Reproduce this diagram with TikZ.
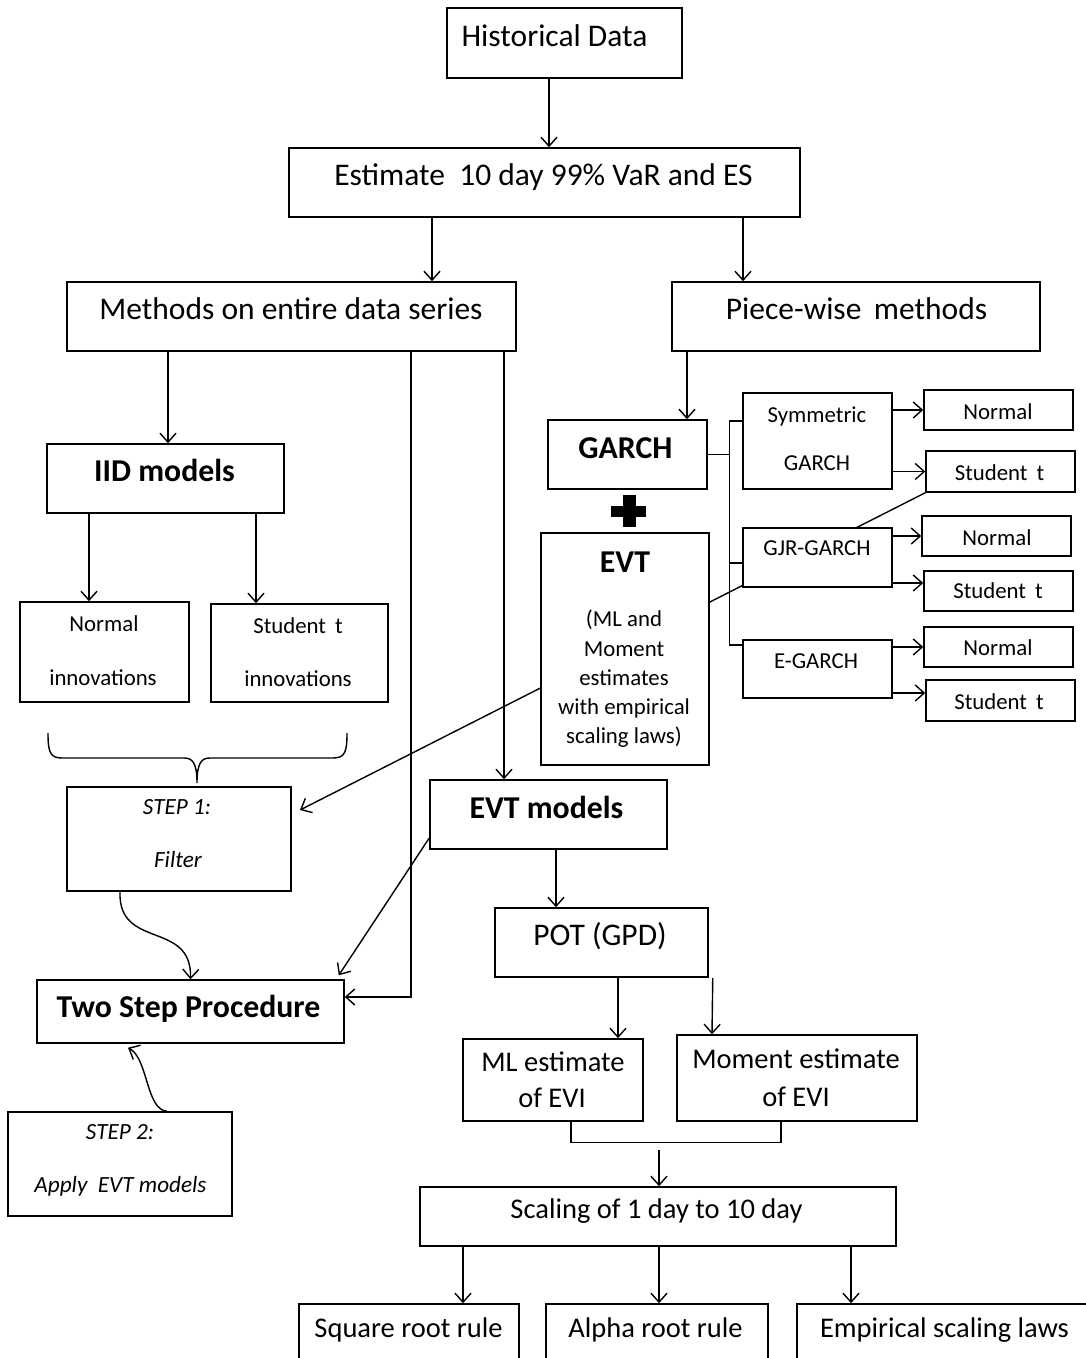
\documentclass[tikz,border=0pt]{standalone}
\usepackage{fontspec}
\setmainfont{Carlito}
\usetikzlibrary{arrows.meta,backgrounds}
\begin{document}
\begin{tikzpicture}[x=1pt,y=-1pt,
  box/.style={draw, line width=1.5pt, fill=white, inner sep=0pt},
  lbl/.style={anchor=base, inner sep=0pt},
  big/.style={font=\fontsize{31.5}{36}\selectfont},
  bigl/.style={font=\fontsize{28.5}{34}\selectfont},
  bigb/.style={font=\fontsize{31.8}{36}\selectfont\bfseries},
  sm/.style={font=\fontsize{22.8}{27}\selectfont},
  smi/.style={font=\fontsize{23.2}{27}\selectfont\itshape},
  ln/.style={line width=1.4pt},
  arr/.style={ln, -{Straight Barb[length=9pt,width=16pt]}},
]
\useasboundingbox (0,0) rectangle (1086,1358);
\clip (0,0) rectangle (1086,1358);

% ---------- boxes ----------
\node[box, minimum width=235pt, minimum height=70pt] (hist) at (564.5,43) {};
\node[box, minimum width=511pt, minimum height=69pt] (est) at (544.5,182.5) {};
\node[box, minimum width=449pt, minimum height=69pt] (meth) at (291.5,316.5) {};
\node[box, minimum width=368pt, minimum height=69pt] (piece) at (856,316.5) {};
\node[box, minimum width=159pt, minimum height=69pt] (garch) at (627.5,454.5) {};
\node[box, minimum width=168pt, minimum height=232pt] (evt) at (625,649) {};
\node[box, minimum width=149pt, minimum height=96pt] (sym) at (817.5,441) {};
\node[box, minimum width=149pt, minimum height=59pt] (gjr) at (817.5,557.5) {};
\node[box, minimum width=149pt, minimum height=58pt] (eg) at (817.5,669) {};
\node[box, minimum width=149pt, minimum height=40pt] (n1) at (998.5,410) {};
\node[box, minimum width=149pt, minimum height=41pt] (s1) at (1000.5,471.5) {};
\node[box, minimum width=149pt, minimum height=40pt] (n2) at (996.5,536) {};
\node[box, minimum width=149pt, minimum height=40pt] (s2) at (998.5,591) {};
\node[box, minimum width=149pt, minimum height=40pt] (n3) at (998.5,647) {};
\node[box, minimum width=149pt, minimum height=41pt] (s3) at (1000.5,700.5) {};
\node[box, minimum width=237pt, minimum height=69pt] (iid) at (165.5,478.5) {};
\node[box, minimum width=169pt, minimum height=100pt] (ninn) at (104.5,652) {};
\node[box, minimum width=177pt, minimum height=98pt] (sinn) at (299.5,653) {};
\node[box, minimum width=224pt, minimum height=104pt] (step1) at (179,839) {};
\node[box, minimum width=237pt, minimum height=69pt] (evtm) at (548.5,814.5) {};
\node[box, minimum width=213pt, minimum height=69pt] (pot) at (601.5,942.5) {};
\node[box, minimum width=307pt, minimum height=63pt] (two) at (190.5,1011.5) {};
\node[box, minimum width=224pt, minimum height=104pt] (step2) at (120,1164) {};
\node[box, minimum width=180pt, minimum height=82pt] (ml) at (553,1080) {};
\node[box, minimum width=240pt, minimum height=86pt] (mom) at (797,1078) {};
\node[box, minimum width=476pt, minimum height=59pt] (scal) at (658,1216.5) {};
\node[box, minimum width=220pt, minimum height=76pt] (sq) at (409,1342) {};
\node[box, minimum width=222pt, minimum height=76pt] (alpha) at (657,1342) {};
\node[box, minimum width=293pt, minimum height=76pt] (emp) at (943.5,1342) {};

% ---------- texts ----------
\node[lbl,big] (hist-t) at (554.5,46) {Historical Data};
\node[lbl,big] (est-t) at (543.5,185) {Estimate\ \ 10 day 99\% VaR and ES};
\node[lbl,big] (meth-t) at (291,319) {Methods on entire data series};
\node[lbl,big] (piece-t) at (856.5,319) {Piece-wise\ \,methods};
\node[lbl,bigb] (garch-t) at (625.5,458) {GARCH};
\node[lbl,bigb] (evt-t) at (625,572) {EVT};
\node[lbl,sm] (evt-t1) at (624,626) {(ML and};
\node[lbl,sm] (evt-t2) at (624,656) {Moment};
\node[lbl,sm] (evt-t3) at (624,685) {estimates};
\node[lbl,sm] (evt-t4) at (624,714) {with empirical};
\node[lbl,sm] (evt-t5) at (624,743) {scaling laws)};
\node[lbl,sm] (sym-t1) at (817,422) {Symmetric};
\node[lbl,sm] (sym-t2) at (817,470) {GARCH};
\node[lbl,sm] (gjr-t) at (817,555) {GJR-GARCH};
\node[lbl,sm] (eg-t) at (816,668) {E-GARCH};
\node[lbl,sm] (n1-t) at (998,419) {Normal};
\node[lbl,sm] (s1-t) at (999.5,480) {Student\ \,t};
\node[lbl,sm] (n2-t) at (997,545) {Normal};
\node[lbl,sm] (s2-t) at (998,598) {Student\ \,t};
\node[lbl,sm] (n3-t) at (998,655) {Normal};
\node[lbl,sm] (s3-t) at (999,709) {Student\ \,t};
\node[lbl,bigb] (iid-t) at (164.5,481) {IID models};
\node[lbl,sm] (ninn-t1) at (104,631) {Normal};
\node[lbl,sm] (ninn-t2) at (103,685) {innovations};
\node[lbl,sm] (sinn-t1) at (298,633) {Student\ \,t};
\node[lbl,sm] (sinn-t2) at (298,686) {innovations};
\node[lbl,smi] (step1-t1) at (177,814) {STEP 1:};
\node[lbl,smi] (step1-t2) at (178,867) {Filter};
\node[lbl,bigb] (evtm-t) at (546.5,818) {EVT models};
\node[lbl,big] (pot-t) at (600,945) {POT (GPD)};
\node[lbl,bigb] (two-t) at (188.5,1017) {Two Step Procedure};
\node[lbl,smi] (step2-t1) at (120,1139) {STEP 2:};
\node[lbl,smi] (step2-t2) at (120.5,1192) {Apply\ \ EVT models};
\node[lbl,bigl] (ml-t1) at (553,1071) {ML estimate};
\node[lbl,bigl] (ml-t2) at (552,1107) {of EVI};
\node[lbl,bigl] (mom-t1) at (796,1068) {Moment estimate};
\node[lbl,bigl] (mom-t2) at (796,1106) {of EVI};
\node[lbl,bigl] (scal-t) at (656.5,1218) {Scaling of 1 day to 10 day};
\node[lbl,bigl] (sq-t) at (408.5,1337) {Square root rule};
\node[lbl,bigl] (alpha-t) at (655.5,1337) {Alpha root rule};
\node[lbl,bigl] (emp-t) at (944.5,1337) {Empirical scaling laws};

% plus sign
\fill (611,506) rectangle (646,517);
\fill (623,495) rectangle (636,527);

% ---------- connectors ----------
\coordinate (s1tip) at (300,810);
\begin{pgfonlayer}{background}
\fill[white] (0,0) rectangle (1086,1358);
\draw[arr] (s1.south west) -- (s1tip);
\end{pgfonlayer}

\draw[arr] ([xshift=-15.5pt]hist.south) -- ([xshift=4.5pt]est.north);
\draw[arr] ([xshift=-112.5pt]est.south) -- ([xshift=140.5pt]meth.north);
\draw[arr] ([xshift=198.5pt]est.south) -- ([xshift=-113pt]piece.north);
\draw[arr] ([xshift=-123.5pt]meth.south) -- ([xshift=2.5pt]iid.north);
\draw[arr] ([xshift=119.5pt]meth.south) |- ([yshift=14.5pt]two.east);
\draw[arr] ([xshift=212.5pt]meth.south) -- ([xshift=-44.5pt]evtm.north);
\draw[arr] ([xshift=-169pt]piece.south) -- ([xshift=59.5pt]garch.north);

\draw[arr] ([xshift=-76.5pt]iid.south) -- ([xshift=-15.5pt]ninn.north);
\draw[arr] ([xshift=90.5pt]iid.south) -- ([xshift=-43.5pt]sinn.north);

% GARCH tree
\coordinate (busx) at (730,500);
\draw[ln] (garch.east) -- (garch.east -| busx);
\draw[ln] ([yshift=20pt]sym.west) -| ([xshift=-13pt,yshift=24pt]eg.west) -- ([yshift=24pt]eg.west);
\coordinate (gjrin) at ([yshift=-5.5pt]gjr.west);
\draw[ln] (gjrin) -- (gjrin -| busx);

\draw[arr] (sym.east |- n1.west) -- (n1.west);
\draw[arr] (sym.east |- s1.west) -- (s1.west);
\draw[arr] (gjr.east |- n2.west) -- (n2.west);
\coordinate (g2) at ([yshift=-25.5pt]gjr.east);
\draw[arr] (g2) -- (g2 -| s2.west);
\draw[arr] (eg.east |- n3.west) -- (n3.west);
\coordinate (e2) at ([yshift=-24pt]eg.east);
\draw[arr] (e2) -- (e2 -| s3.west);

% brace under innovations
\draw[ln] (48,733) .. controls (48,752) and (50,758) .. (62,758) -- (184,758)
  .. controls (192,758) and (197,762) .. (197,783)
  .. controls (197,762) and (202,758) .. (210,758) -- (333,758)
  .. controls (345,758) and (347,752) .. (347,733);

% step 1 to two step
\coordinate (step1out) at ([xshift=-59pt]step1.south);
\draw[arr] (step1out) .. controls (118,950) and (192,920) .. (two.north);
% EVT models to two step
\coordinate (evtmout) at ([yshift=-23.5pt]evtm.west);
\coordinate (twotip) at ([xshift=-6pt,yshift=4pt]two.north east);
\draw[arr] (evtmout) -- (twotip);
% step 2 to two step
\coordinate (step2out) at ([xshift=47pt]step2.north);
\coordinate (twobot) at ([xshift=-62.5pt,yshift=-4pt]two.south);
\draw[arr] (step2out) .. controls (146,1110) and (148,1058) .. (twobot);

% EVT models -> POT -> estimates
\draw[arr] ([xshift=7.5pt]evtm.south) -- ([xshift=-45.5pt]pot.north);
\draw[arr] ([xshift=16.5pt]pot.south) -- ([xshift=65pt]ml.north);
\draw[arr] ([xshift=4pt]pot.south east) -- ([xshift=-85pt]mom.north);
\draw[ln] ([xshift=18pt]ml.south) -- ++(0,21) -| ([xshift=-16pt]mom.south);
\coordinate (brk) at (659,1150);
\draw[arr] (brk) -- ([xshift=1pt]scal.north);

% scaling -> rules
\draw[arr] ([xshift=-195pt]scal.south) -- ([xshift=54pt]sq.north);
\draw[arr] ([xshift=1pt]scal.south) -- ([xshift=2pt]alpha.north);
\draw[arr] ([xshift=193pt]scal.south) -- ([xshift=-92.5pt]emp.north);
\end{tikzpicture}
\end{document}
